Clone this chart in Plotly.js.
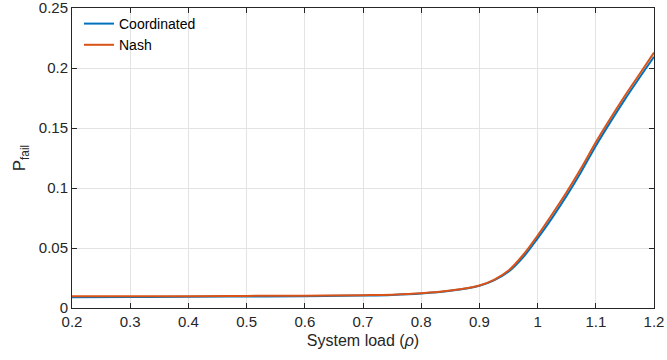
<!DOCTYPE html>
<html>
<head>
<meta charset="utf-8">
<script src="https://cdn.plot.ly/plotly-3.0.1.min.js"></script>
<style>html,body{margin:0;padding:0;background:#fff;}#chart{width:667px;height:360px;}</style>
</head>
<body>
<div id="chart"></div>
<script>
const rho = [0.2, 0.3, 0.4, 0.5, 0.6, 0.7, 0.75, 0.8, 0.85, 0.9, 0.925, 0.95, 0.975, 1.0, 1.025, 1.05, 1.075, 1.1, 1.125, 1.15, 1.175, 1.2];
const coordinated = [0.0089, 0.0091, 0.0093, 0.0096, 0.0099, 0.0104, 0.0109, 0.0121, 0.0144, 0.0186, 0.0231, 0.0302, 0.0422, 0.0580, 0.0752, 0.0937, 0.1137, 0.1352, 0.1550, 0.1740, 0.1920, 0.2095];
const nash = [0.0097, 0.0098, 0.0099, 0.0101, 0.0103, 0.0107, 0.0111, 0.0122, 0.0145, 0.0188, 0.0235, 0.0312, 0.0442, 0.0605, 0.0782, 0.0967, 0.1167, 0.1382, 0.1580, 0.1770, 0.1950, 0.2130];
const seriesNames = ['Coordinated', 'Nash'];
const xTicks = [0.2, 0.3, 0.4, 0.5, 0.6, 0.7, 0.8, 0.9, 1, 1.1, 1.2];
const xTickText = ['0.2', '0.3', '0.4', '0.5', '0.6', '0.7', '0.8', '0.9', '1', '1.1', '1.2'];
const yTicks = [0, 0.05, 0.1, 0.15, 0.2, 0.25];
const yTickText = ['0', '0.05', '0.1', '0.15', '0.2', '0.25'];

const font = 'Liberation Sans, Arial, Helvetica, sans-serif';
const axisColor = '#262626';

const traces = [
  {x: rho, y: coordinated, name: seriesNames[0], mode: 'lines', line: {color: '#0072BD', width: 2, shape: 'spline', smoothing: 1}},
  {x: rho, y: nash, name: seriesNames[1], mode: 'lines', line: {color: '#D95319', width: 2, shape: 'spline', smoothing: 1}}
];

const axisCommon = {
  showline: true, linecolor: axisColor, linewidth: 1, mirror: 'ticks',
  ticks: 'inside', ticklen: 5, tickcolor: axisColor, tickwidth: 1,
  showgrid: true, gridcolor: '#e3e3e3', gridwidth: 1, zeroline: false,
  ticklabeloverflow: 'allow',
  tickfont: {family: font, size: 15, color: axisColor}
};

const layout = {
  width: 667, height: 360,
  margin: {l: 72, r: 13, t: 8, b: 52},
  paper_bgcolor: '#fff', plot_bgcolor: '#fff',
  showlegend: true,
  legend: {x: 0.012, y: 1.0, xanchor: 'left', yanchor: 'top', bgcolor: 'rgba(255,255,255,0)', borderwidth: 0,
           font: {family: font, size: 14, color: '#000'}, tracegroupgap: 0},
  xaxis: Object.assign({}, axisCommon, {
    range: [0.2, 1.2], tickvals: xTicks, ticktext: xTickText,
    title: {text: 'System load (<i>ρ</i>)', font: {family: font, size: 16, color: axisColor}, standoff: 5}
  }),
  yaxis: Object.assign({}, axisCommon, {
    range: [0, 0.2502], tickvals: yTicks, ticktext: yTickText,
    title: {text: 'P<sub>fail</sub>', font: {family: font, size: 17, color: axisColor}, standoff: 8}
  })
};

Plotly.newPlot('chart', traces, layout, {displayModeBar: false, staticPlot: true});
</script>
</body>
</html>
